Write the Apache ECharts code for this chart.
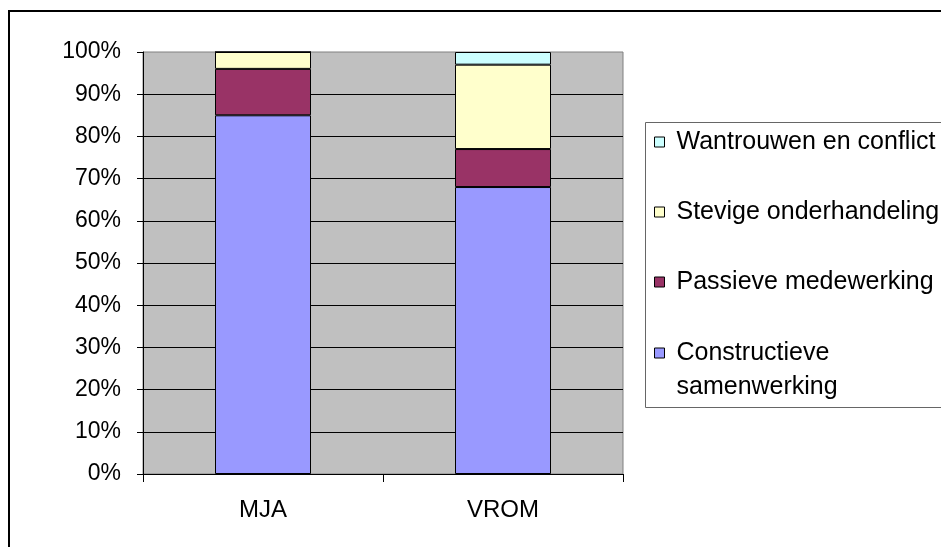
<!DOCTYPE html>
<html>
<head>
<meta charset="utf-8">
<script src="https://cdn.jsdelivr.net/npm/echarts@6/dist/echarts.min.js"></script>
<style>
html,body{margin:0;padding:0;background:#fff;}
#chart{width:941px;height:547px;}
</style>
</head>
<body>
<div id="chart"></div>
<script>
var categories = ['MJA', 'VROM'];
var constructief = [85, 68];
var passief = [11, 9];
var stevig = [4, 20];
var wantrouwen = [0, 3];
var seriesNames = ['Constructieve samenwerking', 'Passieve medewerking', 'Stevige onderhandeling', 'Wantrouwen en conflict'];
var seriesColors = ['#9999FF', '#993366', '#FFFFCC', '#CCFFFF'];
var seriesValues = [constructief, passief, stevig, wantrouwen];

var FONT = '"Liberation Sans", Arial, sans-serif';
var chart = echarts.init(document.getElementById('chart'), null, {renderer: 'canvas'});

var series = seriesNames.map(function (n, i) {
  return {
    name: n,
    type: 'bar',
    stack: 'total',
    barWidth: '40%',
    data: seriesValues[i],
    itemStyle: {color: seriesColors[i], borderColor: '#000', borderWidth: 1},
    emphasis: {disabled: true}
  };
});

var legendItemStyle = {borderColor: '#000', borderWidth: 1};

chart.setOption({
  animation: false,
  backgroundColor: '#fff',
  textStyle: {fontFamily: FONT},
  grid: {
    left: 143, top: 52, right: 318, bottom: 73,
    show: true, backgroundColor: '#C0C0C0', borderColor: '#808080', borderWidth: 1,
    containLabel: false
  },
  xAxis: {
    type: 'category',
    data: categories,
    boundaryGap: true,
    axisLine: {lineStyle: {color: '#000', width: 1}},
    axisTick: {show: true, length: 8, alignWithLabel: false, lineStyle: {color: '#000'}},
    axisLabel: {color: '#000', fontSize: 24, fontFamily: FONT, margin: 24},
    splitLine: {show: false}
  },
  yAxis: {
    type: 'value',
    min: 0, max: 100, interval: 10,
    axisLine: {show: true, lineStyle: {color: '#000', width: 1}},
    axisTick: {show: true, length: 6, lineStyle: {color: '#000'}},
    axisLabel: {color: '#000', fontSize: 23, fontFamily: FONT, margin: 22, formatter: '{value}%'},
    splitLine: {show: true, showMaxLine: false, lineStyle: {color: '#000', width: 1}}
  },
  legend: [
    {
      orient: 'vertical',
      left: 654, top: 125,
      padding: 0,
      itemGap: 36,
      itemWidth: 10, itemHeight: 10,
      icon: 'rect',
      selectedMode: false,
      itemStyle: legendItemStyle,
      textStyle: {color: '#000', fontSize: 25, fontFamily: FONT, lineHeight: 34, padding: [0, 0, 0, 7]},
      data: [seriesNames[3], seriesNames[2], seriesNames[1]]
    },
    {
      orient: 'vertical',
      left: 654, top: 302,
      padding: 0,
      itemWidth: 10, itemHeight: 10,
      icon: 'rect',
      selectedMode: false,
      itemStyle: legendItemStyle,
      formatter: function (name) { return '\n' + name.replace(' ', '\n'); },
      textStyle: {color: '#000', fontSize: 25, fontFamily: FONT, lineHeight: 34, padding: [0, 0, 0, 7]},
      data: [seriesNames[0]]
    }
  ],
  graphic: [
    {type: 'rect', silent: true, z: -1, shape: {x: 9, y: 11, width: 1000, height: 1000},
     style: {fill: 'transparent', stroke: '#000', lineWidth: 2}},
    {type: 'rect', silent: true, z: -1, shape: {x: 645.5, y: 122.5, width: 400, height: 285},
     style: {fill: 'transparent', stroke: '#666', lineWidth: 1}}
  ],
  series: series
});
</script>
</body>
</html>
